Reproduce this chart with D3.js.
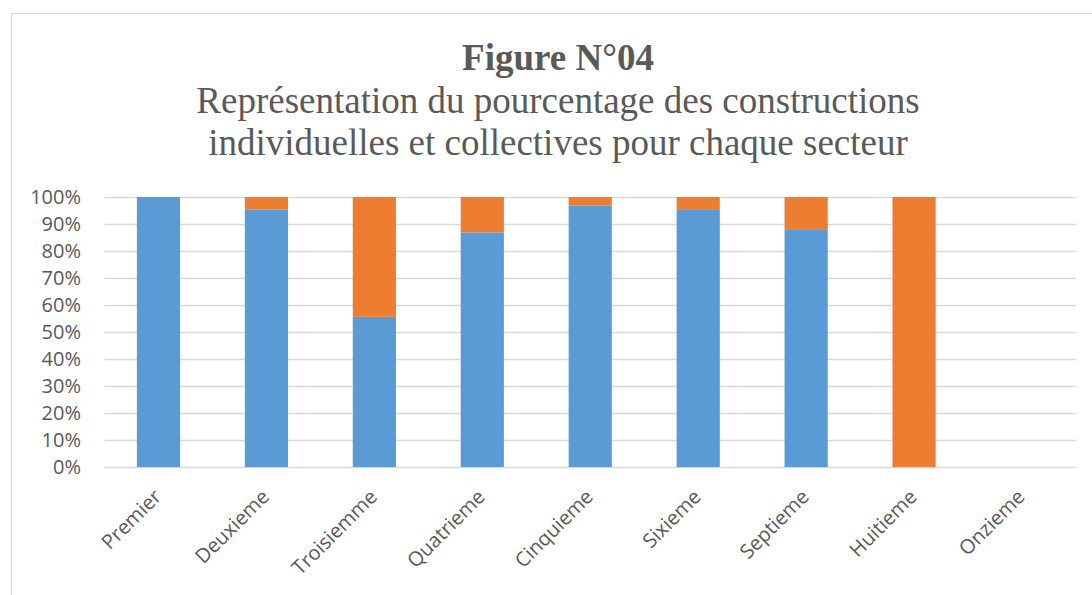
<!DOCTYPE html>
<html>
<head>
<meta charset="utf-8">
<script src="https://cdn.jsdelivr.net/npm/d3@7"></script>
<style>
  body { margin: 0; background: #fff; }
  svg { display: block; }
</style>
</head>
<body>
<div id="chart"></div>
<script>
// sectors and the share of individual / collective buildings (%)
var sectors = ["Premier", "Deuxieme", "Troisiemme", "Quatrieme", "Cinquieme", "Sixieme", "Septieme", "Huitieme", "Onzieme"];
var individuelles = [100, 95.4, 55.6, 86.9, 96.8, 95.5, 88.1, 0, 0];
var collectives = [0, 4.6, 44.4, 13.1, 3.2, 4.5, 11.9, 100, 0];
var yTicks = [0, 10, 20, 30, 40, 50, 60, 70, 80, 90, 100];

var W = 1092, H = 595;
var plotL = 104.5, plotR = 1076, plotT = 197, plotB = 467;

var svg = d3.select("#chart").append("svg")
  .attr("width", W)
  .attr("height", H);

// chart frame
svg.append("rect")
  .attr("x", 11.5).attr("y", 13.5)
  .attr("width", 1100).attr("height", 600)
  .attr("fill", "#fff")
  .attr("stroke", "#d9d9d9");

// titles
svg.append("text")
  .attr("x", 558).attr("y", 70)
  .attr("text-anchor", "middle")
  .style("font-family", "'Liberation Serif', 'Times New Roman', serif")
  .style("font-weight", "bold")
  .style("font-size", "37px")
  .attr("fill", "#595959")
  .text("Figure N°04");

var subs = ["Représentation du pourcentage des constructions", "individuelles et collectives pour chaque secteur"];
svg.selectAll("text.sub")
  .data(subs)
  .enter()
  .append("text")
  .attr("class", "sub")
  .attr("x", 558)
  .attr("y", function(d, i) { return 113 + i * 42; })
  .attr("text-anchor", "middle")
  .style("font-family", "'Liberation Serif', 'Times New Roman', serif")
  .style("font-size", "37px")
  .attr("fill", "#595959")
  .text(function(d) { return d; });

var x = d3.scaleBand()
  .domain(sectors)
  .range([plotL, plotR])
  .paddingInner(0.6)
  .paddingOuter(0.3);

var y = d3.scaleLinear()
  .domain([0, 100])
  .range([plotB, plotT]);

// gridlines
svg.append("g")
  .selectAll("line")
  .data(yTicks)
  .enter()
  .append("line")
  .attr("x1", plotL).attr("x2", plotR)
  .attr("y1", function(d) { return y(d) + 0.5; })
  .attr("y2", function(d) { return y(d) + 0.5; })
  .attr("stroke", "#d9d9d9")
  .attr("stroke-width", 1.5);

// y axis labels
var yAxis = d3.axisLeft(y)
  .tickValues(yTicks)
  .tickFormat(function(d) { return d + "%"; })
  .tickSize(0)
  .tickPadding(0);

var gy = svg.append("g")
  .attr("transform", "translate(81,0)")
  .call(yAxis);
gy.select(".domain").remove();
gy.selectAll("text")
  .style("font-family", "'Open Sans', Calibri, sans-serif")
  .style("font-size", "20px")
  .attr("fill", "#595959");

// stacked bars
var rows = sectors.map(function(s, i) {
  return { sector: s, ind: individuelles[i], col: collectives[i] };
});
var stack = d3.stack().keys(["ind", "col"]);
var colors = { ind: "#5b9bd5", col: "#ed7d31" };

svg.append("g")
  .selectAll("g")
  .data(stack(rows))
  .enter()
  .append("g")
  .attr("fill", function(d) { return colors[d.key]; })
  .selectAll("rect")
  .data(function(d) { return d; })
  .enter()
  .append("rect")
  .attr("x", function(d) { return x(d.data.sector); })
  .attr("width", x.bandwidth())
  .attr("y", function(d) { return y(d[1]); })
  .attr("height", function(d) { return y(d[0]) - y(d[1]); });

// x axis labels
var xAxis = d3.axisBottom(x).tickSize(0).tickPadding(0);
var gx = svg.append("g")
  .attr("transform", "translate(0," + plotB + ")")
  .call(xAxis);
gx.select(".domain").remove();
gx.selectAll("text")
  .attr("text-anchor", "end")
  .attr("dy", 0)
  .attr("y", 0)
  .attr("transform", "translate(4,31) rotate(-45)")
  .style("font-family", "'Open Sans', Calibri, sans-serif")
  .style("font-size", "20px")
  .attr("fill", "#595959");
</script>
</body>
</html>
